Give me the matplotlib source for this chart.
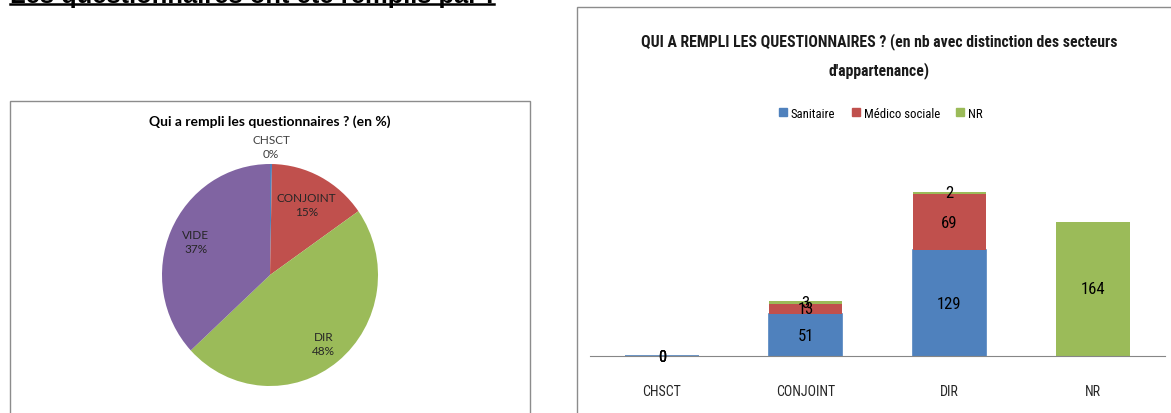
import matplotlib
matplotlib.use('Agg')
import numpy as np
import matplotlib.pyplot as plt
from matplotlib.patches import Rectangle, Patch
from matplotlib import font_manager as fm

# pie: who filled in the questionnaires (%)
pie_labels = ['CHSCT', 'CONJOINT', 'DIR', 'VIDE']
pie_pct = [0.3, 15, 48, 37]

# stacked bars: counts by sector
cats = ['CHSCT', 'CONJOINT', 'DIR', 'NR']
sanitaire = [0, 51, 129, None]
medico = [0, 13, 69, None]
nr = [0, 3, 2, 164]
series_names = ['Sanitaire', 'Médico sociale', 'NR']

BLUE, RED, GREEN, PURPLE = '#4F81BD', '#C0504D', '#9BBB59', '#8064A2'
W, H = 1171, 414

# condensed font if there is one, else a plain one made smaller
avail = {f.name for f in fm.fontManager.ttflist}
if 'Roboto Condensed' in avail:
    NARROW, K = 'Roboto Condensed', 1.0
else:
    NARROW, K = 'Lato', 0.8


def fx(px):
    return px / W


def fy(py):
    return 1 - py / H


fig = plt.figure(figsize=(W / 100, H / 100), dpi=100)

# frames of the two chart boxes
fig.patches.append(Rectangle((fx(10), fy(430)), 520 / W, 328 / H, transform=fig.transFigure,
                             fill=False, edgecolor='#8c8c8c', lw=1))
fig.patches.append(Rectangle((fx(577), fy(430)), 620 / W, 422 / H, transform=fig.transFigure,
                             fill=False, edgecolor='#8c8c8c', lw=1))

# header, cut at top of the picture
hdr = fig.text(fx(10), fy(3.2), 'Les questionnaires ont été remplis par :', fontsize=18.4,
               fontweight='bold', family='Liberation Sans', va='baseline')
fig.canvas.draw()
bb = hdr.get_window_extent()
fig.add_artist(plt.Line2D([bb.x0 / W, bb.x1 / W], [fy(5), fy(5)], color='black', lw=1.8,
                          transform=fig.transFigure))

# ---- pie ----
axp = fig.add_axes([fx(162), fy(387), 216 / W, 222 / H])
wedges, _ = axp.pie(pie_pct, colors=[BLUE, RED, GREEN, PURPLE], startangle=90,
                    counterclock=False, wedgeprops=dict(linewidth=0))
axp.set_aspect('auto')
axp.set_xlim(-1, 1)
axp.set_ylim(-1, 1)
dists = [1.16, 0.72, 0.79, 0.75]
for w, lab, p, d in zip(wedges, pie_labels, pie_pct, dists):
    a = np.deg2rad((w.theta1 + w.theta2) / 2)
    axp.text(d * np.cos(a), d * np.sin(a), f'{lab}\n{round(p)}%', ha='center', va='center',
             fontsize=8.5, family='Lato', color='#404040' if d > 1 else '#262626',
             linespacing=1.3, clip_on=False)
fig.text(fx(270), fy(122), 'Qui a rempli les questionnaires ? (en %)', ha='center', va='center',
         fontsize=10, fontweight='bold', family='Lato')

# ---- stacked bars ----
ax = fig.add_axes([fx(590), fy(357), 575 / W, 177 / H])
x = np.arange(len(cats))
bottom = np.zeros(len(cats))
for i, (vals, col) in enumerate(zip([sanitaire, medico, nr], [BLUE, RED, GREEN])):
    h = np.array([0 if v is None else v for v in vals], dtype=float)
    edges = [col if (i == 0 and v is not None) else 'none' for v in vals]
    bars = ax.bar(x, h, 0.51, bottom=bottom, color=col, edgecolor=edges, linewidth=1.2)
    ax.bar_label(bars, labels=['' if v is None else str(v) for v in vals], label_type='center',
                 fontsize=12 * K, family=NARROW, color='black')
    bottom += h
ax.set_xlim(-0.5, 3.5)
ax.set_ylim(0, 216)
ax.set_xticks(x)
ax.set_xticklabels(cats, fontsize=10 * K, family=NARROW, color='#262626')
ax.set_yticks([])
ax.tick_params(axis='x', length=0, pad=20)
for s in ['top', 'left', 'right']:
    ax.spines[s].set_visible(False)
ax.spines['bottom'].set_color('#868686')
ax.patch.set_alpha(0)

fig.text(fx(879), fy(56), "QUI A REMPLI LES QUESTIONNAIRES ? (en nb avec distinction des secteurs\n"
         "d'appartenance)", ha='center', va='center', fontsize=11.3 * K, fontweight='bold',
         family=NARROW, linespacing=1.85, color='#1a1a1a')
handles = [Patch(color=c) for c in [BLUE, RED, GREEN]]
fig.legend(handles, series_names, loc='center', bbox_to_anchor=(fx(881), fy(114)), ncol=3,
           frameon=False, prop=dict(family=NARROW, size=9.2 * K), handlelength=0.6,
           handleheight=0.6, handletextpad=0.3, columnspacing=1.3)

fig.savefig('out.png', dpi=100)
